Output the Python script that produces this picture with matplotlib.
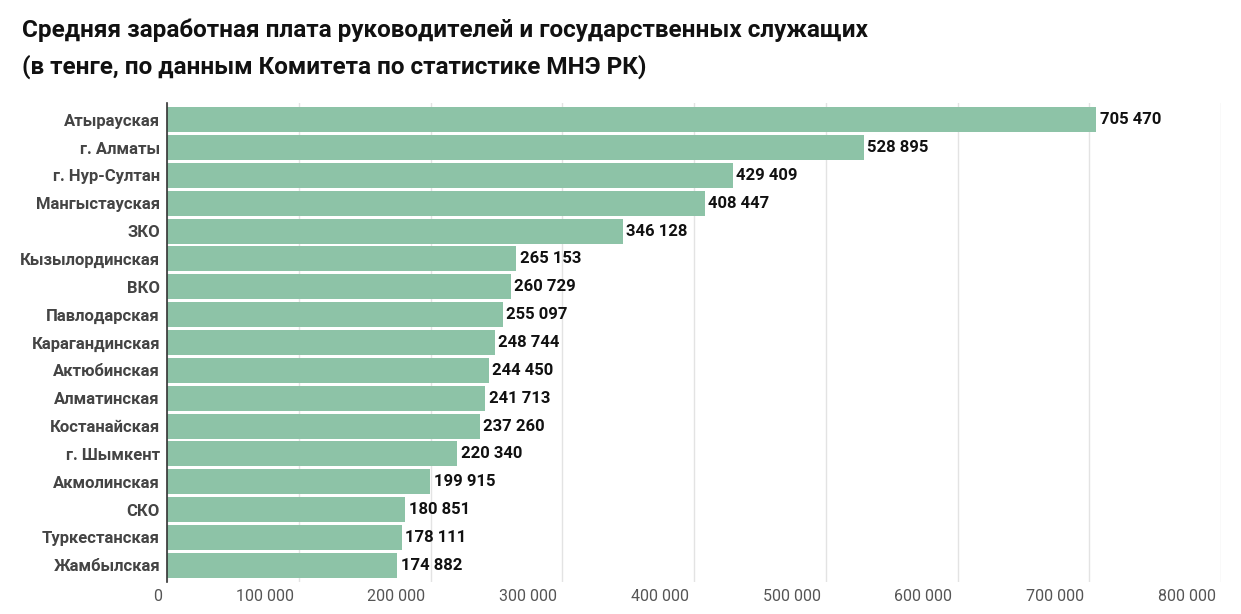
import matplotlib
matplotlib.use("Agg")
import matplotlib.pyplot as plt
import matplotlib.transforms as mtransforms

plt.rcParams['font.family'] = ['Roboto', 'DejaVu Sans']

regions = ["Атырауская", "г. Алматы", "г. Нур-Султан", "Мангыстауская", "ЗКО",
           "Кызылординская", "ВКО", "Павлодарская", "Карагандинская", "Актюбинская",
           "Алматинская", "Костанайская", "г. Шымкент", "Акмолинская", "СКО",
           "Туркестанская", "Жамбылская"]
salary = [705470, 528895, 429409, 408447, 346128, 265153, 260729, 255097, 248744,
          244450, 241713, 237260, 220340, 199915, 180851, 178111, 174882]
ticks = [0, 100000, 200000, 300000, 400000, 500000, 600000, 700000, 800000]


def fmt(v):
    return "{:,}".format(v).replace(",", " ")


fig = plt.figure(figsize=(12.41, 6.14), dpi=100)
ax = fig.add_axes([167 / 1241, 1 - 582 / 614, (1221 - 167) / 1241, (582 - 103) / 614])

pos = list(range(len(regions)))
ax.barh(pos, salary, height=0.9, color="#8dc3a7", zorder=2)
ax.set_ylim(len(regions) - 0.4, -0.6)
ax.set_xlim(0, 800000)

# value labels next to bars
for p, v in zip(pos, salary):
    ax.text(v + 2500, p, fmt(v), va="center", ha="left", fontsize=12,
            fontweight="bold", color="#111111", zorder=3)

ax.set_yticks(pos)
ax.set_yticklabels(regions, fontsize=12, fontweight="bold", color="#444444")
ax.tick_params(axis="y", length=0, pad=5)

ax.set_xticks(ticks)
ax.set_xticklabels([fmt(t) for t in ticks], fontsize=11.5, color="#555555", ha="right")
ax.tick_params(axis="x", length=0, pad=5)
shift = mtransforms.ScaledTranslation(-5 / 100, 0, fig.dpi_scale_trans)
for lab in ax.get_xticklabels():
    lab.set_transform(lab.get_transform() + shift)

ax.grid(axis="x", color="#e3e3e3", linewidth=1, zorder=0)
for s in ["top", "right", "bottom"]:
    ax.spines[s].set_visible(False)
ax.spines["left"].set_color("#333333")
ax.spines["left"].set_linewidth(1.2)
ax.spines["left"].set_zorder(4)

fig.text(22 / 1241, 1 - 30 / 614, "Средняя заработная плата руководителей и государственных служащих",
         fontsize=17.5, fontweight="bold", color="#111111", va="center", ha="left")
fig.text(22 / 1241, 1 - 67 / 614, "(в тенге, по данным Комитета по статистике МНЭ РК)",
         fontsize=17.5, fontweight="bold", color="#111111", va="center", ha="left")

fig.savefig("out.png", dpi=100)
